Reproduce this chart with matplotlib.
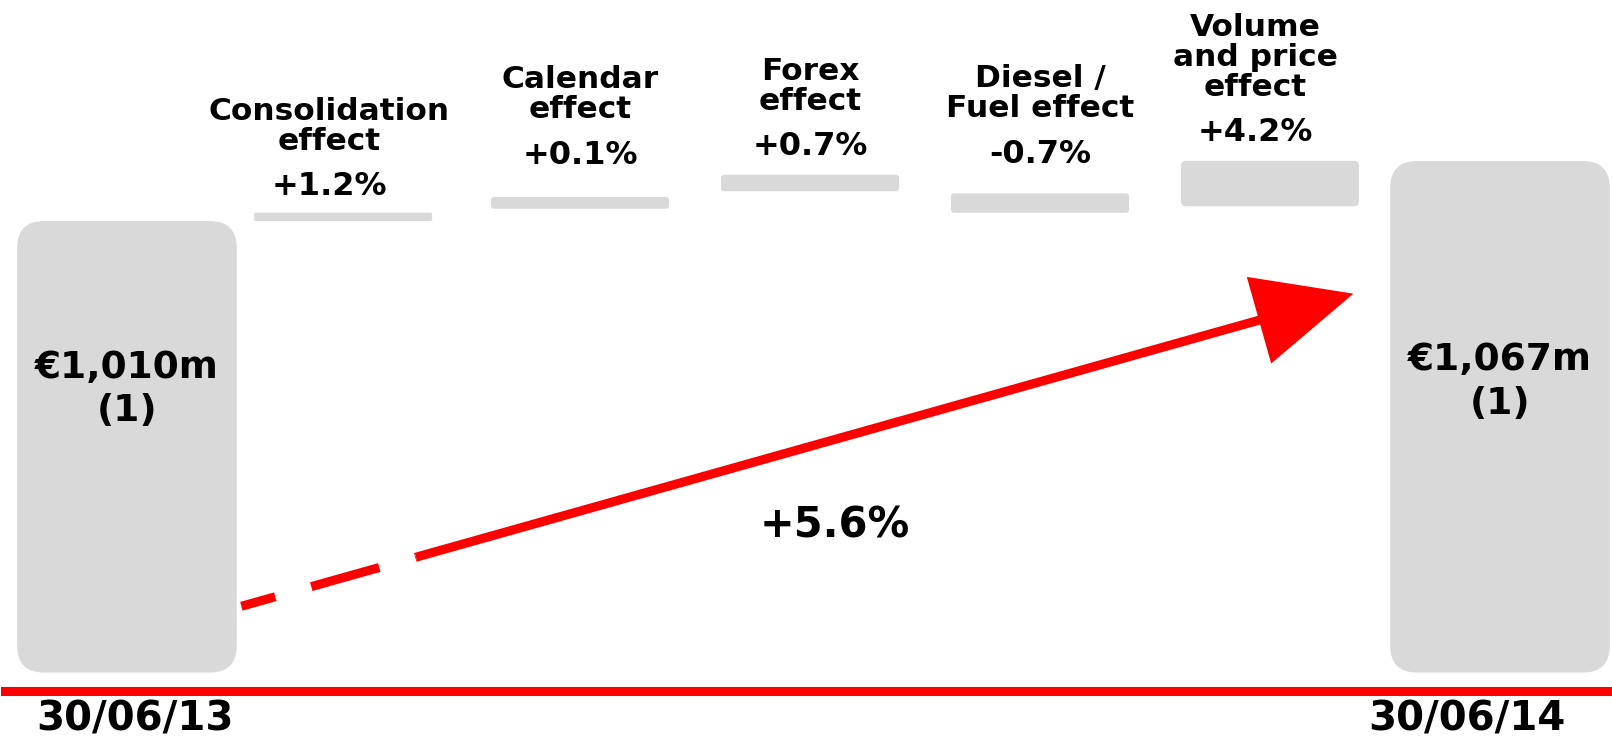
import matplotlib
matplotlib.use("Agg")
import matplotlib.pyplot as plt
from matplotlib.patches import FancyBboxPatch
import numpy as np

# data (EUR m, axis truncated)
period_labels = ["30/06/13", "30/06/14"]
period_values = [1010, 1067]
period_texts = ["€1,010m\n(1)", "€1,067m\n(1)"]
axis_floor = 581

effect_names = ["Consolidation\neffect", "Calendar\neffect", "Forex\neffect",
                "Diesel /\nFuel effect", "Volume\nand price\neffect"]
effect_pct = ["+1.2%", "+0.1%", "+0.7%", "-0.7%", "+4.2%"]
effect_low = [1010, 1021.7, 1038.3, 1017.8, 1024.0]
effect_high = [1018, 1032.8, 1053.9, 1036.3, 1067.2]
total_change = "+5.6%"

GREY = "#D9D9D9"
RED = "#FF0000"
plt.rcParams['font.family'] = ['DejaVu Sans']

fig = plt.figure(figsize=(16.12, 7.41), dpi=100)
ax = fig.add_axes([0, 0, 1, 1])
ax.set_xlim(-0.522, 6.487)
ax.set_ylim(516, 1220)
ax.axis('off')

# pixels per data unit, used for rounded corners and offsets
o = ax.transData.transform((0, 0))
px_x = ax.transData.transform((1, 0))[0] - o[0]
px_y = ax.transData.transform((0, 1))[1] - o[1]


def dy(p):
    return p / px_y


def rounded_bar(x, low, high, width, radius_px):
    box = FancyBboxPatch((x - width / 2, low), width, high - low,
                         boxstyle=f"round,pad=0,rounding_size={radius_px / px_x}",
                         mutation_aspect=px_x / px_y, fc=GREY, ec='none', zorder=1)
    ax.add_patch(box)


# slot positions (first two slightly squeezed together, as on the slide)
slots = [0.03, 0.97, 2.0, 3.0, 4.0, 5.0, 6.0]
big_w = 0.955
small_w = 0.774
start_x, end_x = slots[0], slots[-1]

# start / end totals
for x, val, txt, ty in zip([start_x, end_x], period_values, period_texts, [850, 857]):
    rounded_bar(x, axis_floor, val, big_w, 27)
    ax.text(x, ty, txt, ha='center', va='center', fontsize=27,
            fontweight='bold', linespacing=1.28)

ax.text(0.065, 517.5, period_labels[0], ha='center', va='bottom',
        fontsize=29, fontweight='bold')
ax.text(end_x - 0.143, 517.5, period_labels[1], ha='center', va='bottom',
        fontsize=29, fontweight='bold')

# floating effect bars
label_gap_px = [26, 42, 28, 39, 28]
label_shift = [-0.061, 0, 0, 0, -0.065]
radii = [2, 3, 3, 3, 5]
for i, (name, pct, lo, hi) in enumerate(zip(effect_names, effect_pct, effect_low, effect_high)):
    x = slots[i + 1]
    rounded_bar(x, lo, hi, small_w, radii[i])
    yv = hi + dy(label_gap_px[i])
    tx = x + label_shift[i]
    ax.text(tx, yv, pct, ha='center', va='center', fontsize=23,
            fontweight='bold')
    ax.text(tx, yv + dy(31), name, ha='center', va='bottom',
            fontsize=22.5, fontweight='bold', linespacing=1.04,
            multialignment='center')

# red baseline
ax.axhline(563.9, xmin=0.003, xmax=1, color=RED, lw=6.5, zorder=2)

# growth arrow from start bar to end bar
start = np.array([start_x + big_w / 2 + 0.02, 644.0])
tip = np.array([end_x - big_w / 2 - 0.16, 941.0])
p0 = ax.transData.transform(start)
p1 = ax.transData.transform(tip)
length = np.hypot(*(p1 - p0))
inv = ax.transData.inverted()
brk = inv.transform(p0 + (p1 - p0) * 0.157)
base = inv.transform(p1 - (p1 - p0) * 90 / length)

ax.plot([start[0], brk[0]], [start[1], brk[1]], color=RED, lw=6.5,
        linestyle=(0, (3.9, 4.14, 7.83, 4.14)), dash_capstyle='butt', zorder=3)
ax.plot([brk[0], base[0]], [brk[1], base[1]], color=RED, lw=6.5,
        solid_capstyle='butt', zorder=3)
ax.annotate('', xy=tip, xytext=base,
            arrowprops=dict(arrowstyle='-|>,head_length=7.06,head_width=3.24',
                            mutation_scale=10, lw=0, color=RED,
                            shrinkA=0, shrinkB=0), zorder=4)

ax.text(3.109, 721, total_change, ha='center', va='center', fontsize=30,
        fontweight='bold')

fig.savefig('out.png', dpi=100, facecolor='white')
